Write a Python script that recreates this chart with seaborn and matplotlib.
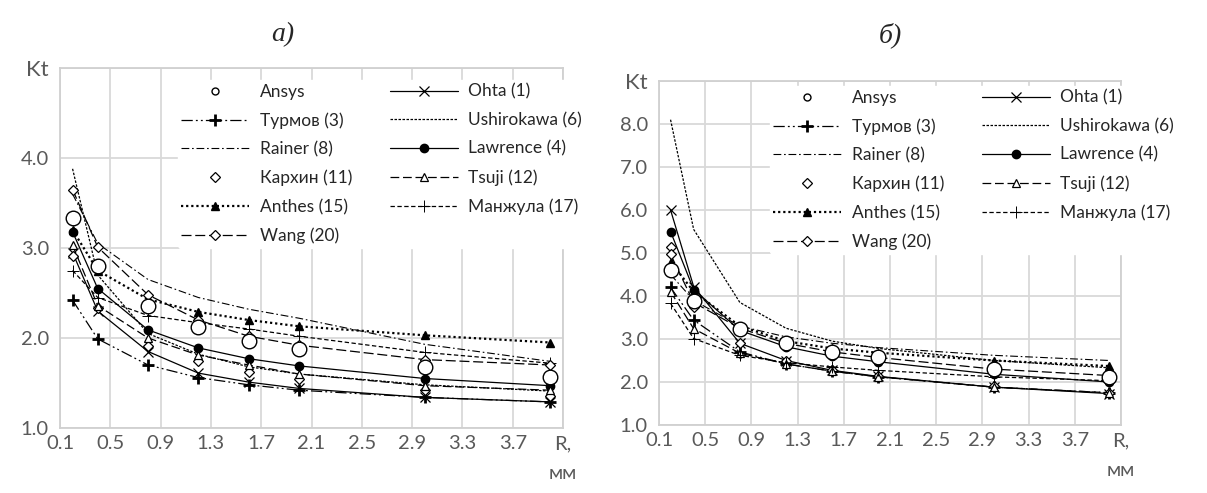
import numpy as np
import pandas as pd
import matplotlib
matplotlib.use("Agg")
import matplotlib.pyplot as plt
from matplotlib.lines import Line2D
import seaborn as sns

sns.set_theme(style="white")
plt.rcParams['font.family'] = ['Lato', 'DejaVu Sans']

R = [0.2, 0.4, 0.8, 1.2, 1.6, 2.0, 3.0, 4.0]

# ---- chart a)
a_ansys      = [3.33, 2.80, 2.36, 2.12, 1.97, 1.88, 1.68, 1.57]
a_ohta       = [2.95, 2.30, 1.85, 1.61, 1.51, 1.44, 1.34, 1.29]
a_turmov     = [2.42, 1.99, 1.70, 1.56, 1.48, 1.42, 1.34, 1.29]
a_ushirokawa = [3.88, 2.70, 2.05, 1.82, 1.68, 1.60, 1.48, 1.41]
a_rainer     = [3.60, 3.05, 2.65, 2.45, 2.32, 2.22, 1.93, 1.74]
a_lawrence   = [3.18, 2.55, 2.09, 1.89, 1.77, 1.69, 1.55, 1.47]
a_karkhin    = [2.91, 2.33, 1.91, 1.74, 1.62, 1.55, 1.42, 1.36]
a_tsuji      = [3.03, 2.36, 2.00, 1.81, 1.70, 1.60, 1.47, 1.42]
a_anthes     = [3.20, 2.75, 2.43, 2.29, 2.20, 2.13, 2.03, 1.95]
a_manzhula   = [2.75, 2.45, 2.25, 2.17, 2.10, 2.02, 1.84, 1.72]
a_wang       = [3.65, 3.01, 2.48, 2.20, 2.02, 1.92, 1.76, 1.70]

# ---- chart б)
b_ansys      = [4.60, 3.88, 3.23, 2.91, 2.70, 2.59, 2.30, 2.12]
b_ohta       = [6.00, 4.22, 2.90, 2.50, 2.27, 2.13, 1.88, 1.73]
b_turmov     = [4.20, 3.44, 2.70, 2.42, 2.25, 2.12, 1.88, 1.75]
b_ushirokawa = [8.10, 5.55, 3.85, 3.25, 2.95, 2.78, 2.50, 2.33]
b_rainer     = [4.50, 3.90, 3.30, 3.05, 2.90, 2.80, 2.62, 2.50]
b_lawrence   = [5.50, 4.15, 3.20, 2.82, 2.60, 2.47, 2.18, 2.00]
b_karkhin    = [5.15, 3.75, 2.90, 2.50, 2.28, 2.15, 1.90, 1.75]
b_tsuji      = [4.10, 3.24, 2.67, 2.42, 2.25, 2.12, 1.88, 1.75]
b_anthes     = [4.80, 4.10, 3.30, 2.95, 2.78, 2.68, 2.50, 2.37]
b_manzhula   = [3.83, 3.01, 2.62, 2.45, 2.35, 2.27, 2.12, 2.03]
b_wang       = [4.97, 3.85, 3.25, 2.90, 2.70, 2.57, 2.30, 2.15]

names = ["Ansys", "Ohta (1)", "Турмов (3)", "Ushirokawa (6)", "Rainer (8)",
         "Lawrence (4)", "Кархин (11)", "Tsuji (12)", "Anthes (15)",
         "Манжула (17)", "Wang (20)"]

xticks = [0.1, 0.5, 0.9, 1.3, 1.7, 2.1, 2.5, 2.9, 3.3, 3.7, 4.1]
xticklabels = ["0.1", "0.5", "0.9", "1.3", "1.7", "2.1", "2.5", "2.9", "3.3", "3.7", "R,\nмм"]

K = 'black'
styles = {
    "Ansys":          ('none', 0, 'o', 10.5, 'white', 1.0),
    "Ohta (1)":       ('-', 0.9, 'x', 7, 'none', 0.9),
    "Турмов (3)":     ((0, (9, 2.5, 1.5, 2.5, 1.5, 2.5)), 0.9, '+', 9, 'none', 2.0),
    "Ushirokawa (6)": ((0, (2, 1.2)), 0.9, None, 0, 'none', 1),
    "Rainer (8)":     ((0, (7, 2.5, 1.5, 2.5)), 0.8, None, 0, 'none', 1),
    "Lawrence (4)":   ('-', 0.9, 'o', 6, K, 1.0),
    "Кархин (11)":    ('none', 0, 'D', 5, 'white', 0.9),
    "Tsuji (12)":     ((0, (7, 3)), 0.9, '^', 6, 'white', 0.9),
    "Anthes (15)":    ((0, (1, 1.3)), 1.6, '^', 6, K, 1.0),
    "Манжула (17)":   ((0, (3.5, 2)), 0.9, '+', 8, 'none', 0.7),
    "Wang (20)":      ((0, (8, 3)), 0.9, 'D', 5, 'white', 0.9),
}

W, H = 1207, 493

def draw(ax, series, ymax, yticklabels, leg_xy):
    for name, vals in zip(names, series):
        ls, lw, mk, ms, mfc, mew = styles[name]
        df = pd.DataFrame({"R": R, "K": vals})
        z = 5 if name == "Ansys" else 3
        if ls == 'none':
            sns.lineplot(data=df, x="R", y="K", ax=ax, linestyle='none',
                         marker=mk, markersize=ms, markerfacecolor=mfc,
                         markeredgecolor=K, markeredgewidth=mew, color=K,
                         zorder=z)
        else:
            kw = dict(marker=mk, markersize=ms, markerfacecolor=mfc,
                      markeredgecolor=K, markeredgewidth=mew) if mk else {}
            sns.lineplot(data=df, x="R", y="K", ax=ax, linestyle=ls,
                         linewidth=lw, color=K, zorder=z, **kw)
    ax.set_xlim(0.1, 4.1)
    ax.set_ylim(1, ymax)
    ax.set_xticks(xticks)
    ax.set_xticklabels(xticklabels)
    ax.set_yticks(np.arange(1, ymax + 0.5, 1.0))
    ax.set_yticklabels(yticklabels)
    ax.set_xlabel("")
    ax.set_ylabel("")
    ax.grid(True, color='#d9d9d9', lw=1.3)
    ax.set_axisbelow(True)
    for s in ax.spines.values():
        s.set_color('#d0d0d0')
        s.set_linewidth(1.3)
    ax.tick_params(axis='y', length=0, labelsize=14.5, colors='#595959', pad=8)
    ax.tick_params(axis='x', length=0, labelsize=14.5, colors='#595959', pad=5)
    lab = ax.get_xticklabels()[-1]
    lab.set_linespacing(1.9)
    lab.set_verticalalignment('top')
    ax.get_yticklabels()[-1].set_fontsize(16)
    # legend
    handles = {}
    for name in names:
        ls, lw, mk, ms, mfc, mew = styles[name]
        lms = 5 if name == "Ansys" else ms
        handles[name] = Line2D([], [], color=K, linestyle=ls, linewidth=lw,
                               marker=mk, markersize=lms, markerfacecolor=mfc,
                               markeredgecolor=K, markeredgewidth=mew)
    order = ["Ansys", "Турмов (3)", "Rainer (8)", "Кархин (11)", "Anthes (15)",
             "Wang (20)", "Ohta (1)", "Ushirokawa (6)", "Lawrence (4)",
             "Tsuji (12)", "Манжула (17)"]
    leg = ax.legend([handles[n] for n in order], order, ncol=2, loc='upper left',
                    bbox_to_anchor=(leg_xy[0] / W, 1 - leg_xy[1] / H),
                    bbox_transform=fig.transFigure, frameon=True, fontsize=12.5,
                    handlelength=3.9, handletextpad=0.6, columnspacing=2.2,
                    labelspacing=0.72, borderaxespad=0.0, borderpad=0.2)
    leg.get_frame().set_facecolor('white')
    leg.get_frame().set_edgecolor('white')
    leg.get_frame().set_alpha(1)
    leg.set_zorder(10)
    for t in leg.get_texts():
        t.set_color('#262626')

fig = plt.figure(figsize=(W / 100, H / 100), dpi=100)
ax1 = fig.add_axes([60 / W, 1 - 428 / H, (563 - 60) / W, (428 - 68) / H])
ax2 = fig.add_axes([659 / W, 1 - 425 / H, (1121 - 659) / W, (425 - 81) / H])

draw(ax1, [a_ansys, a_ohta, a_turmov, a_ushirokawa, a_rainer, a_lawrence,
           a_karkhin, a_tsuji, a_anthes, a_manzhula, a_wang],
     5, ["1.0", "2.0", "3.0", "4.0", "Kt"], (178, 80))
draw(ax2, [b_ansys, b_ohta, b_turmov, b_ushirokawa, b_rainer, b_lawrence,
           b_karkhin, b_tsuji, b_anthes, b_manzhula, b_wang],
     9, ["1.0", "2.0", "3.0", "4.0", "5.0", "6.0", "7.0", "8.0", "Kt"], (770, 86))

fig.text(283 / W, 1 - 35 / H, "а)", ha='center', va='center',
         family='Liberation Serif', style='italic', fontsize=20)
fig.text(890 / W, 1 - 35 / H, "б)", ha='center', va='center',
         family='Liberation Serif', style='italic', fontsize=20)

fig.savefig("out.png", dpi=100)
